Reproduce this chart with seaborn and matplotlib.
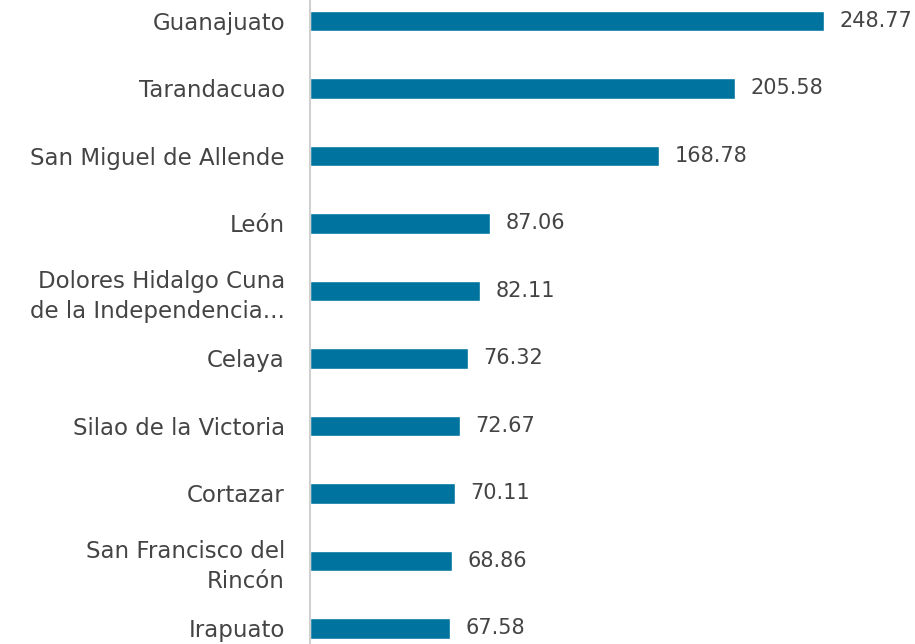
import matplotlib
matplotlib.use("Agg")
import matplotlib.pyplot as plt
import seaborn as sns
import pandas as pd

# values
municipios = ['Guanajuato', 'Tarandacuao', 'San Miguel de Allende', 'León',
              'Dolores Hidalgo Cuna\nde la Independencia...', 'Celaya',
              'Silao de la Victoria', 'Cortazar', 'San Francisco del\nRincón',
              'Irapuato']
valores = [248.77, 205.58, 168.78, 87.06, 82.11, 76.32, 72.67, 70.11, 68.86, 67.58]

df = pd.DataFrame({'municipio': municipios, 'valor': valores})

sns.set_style('white')
plt.rcParams['font.family'] = ['DejaVu Sans']

fig = plt.figure(figsize=(9.15, 6.44), dpi=100)
ax = fig.add_axes([310 / 915, 0, 605 / 915, 1])

sns.barplot(data=df, x='valor', y='municipio', orient='h', color='#00749f',
            width=0.31, saturation=1, ax=ax)

ax.set_xlim(0, 292.8)
ax.set_ylim(9.23, -0.311)

for i, v in enumerate(valores):
    ax.text(v + 7.5, i, f'{v:.2f}', va='center', ha='left',
            fontsize=15, color='#444444')

ax.set_xlabel('')
ax.set_ylabel('')
ax.set_xticks([])
ax.tick_params(axis='y', length=0, pad=18, labelsize=16.5, labelcolor='#444444')
for lab in ax.get_yticklabels():
    lab.set_linespacing(1.35)

for s in ['top', 'right', 'bottom']:
    ax.spines[s].set_visible(False)
ax.spines['left'].set_color('#d0d0d0')
ax.spines['left'].set_linewidth(1.5)

fig.savefig('out.png', dpi=100)
